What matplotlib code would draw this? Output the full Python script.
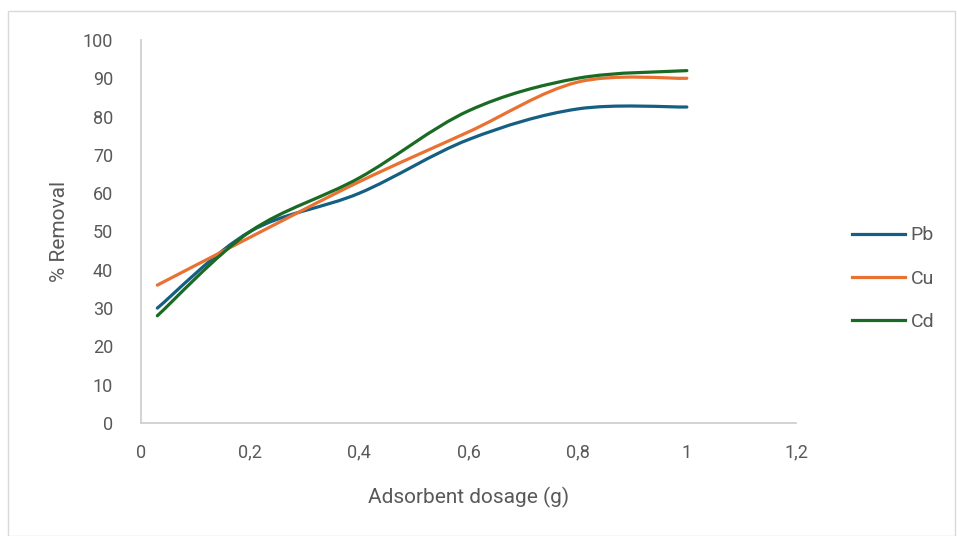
import matplotlib.pyplot as plt
from matplotlib.path import Path
from matplotlib.patches import PathPatch, Rectangle
from matplotlib.lines import Line2D

# data
dosage = [0.03, 0.2, 0.4, 0.6, 0.8, 1.0]
pb = [30, 50, 60, 74, 82, 82.5]
cu = [36, 48.5, 63, 76, 89, 90]
cd = [28, 50, 64, 81.5, 90, 92]

series = [("Pb", pb, "#156082"), ("Cu", cu, "#E97132"), ("Cd", cd, "#196B24")]
grey = "#595959"
font = "Roboto"


def smooth_path(x, y):
    # excel-like smoothed line: catmull-rom as cubic bezier segments
    n = len(x)
    verts = [(x[0], y[0])]
    codes = [Path.MOVETO]
    for i in range(n - 1):
        i0 = max(i - 1, 0)
        i3 = min(i + 2, n - 1)
        c1 = (x[i] + (x[i + 1] - x[i0]) / 6, y[i] + (y[i + 1] - y[i0]) / 6)
        c2 = (x[i + 1] - (x[i3] - x[i]) / 6, y[i + 1] - (y[i3] - y[i]) / 6)
        verts += [c1, c2, (x[i + 1], y[i + 1])]
        codes += [Path.CURVE4] * 3
    return Path(verts, codes)


fig = plt.figure(figsize=(9.57, 5.36), dpi=100)
ax = fig.add_axes([0.1473, 0.2108, 0.6845, 0.7146])

for name, vals, col in series:
    ax.add_patch(PathPatch(smooth_path(dosage, vals), facecolor="none",
                           edgecolor=col, lw=2.3, capstyle="round"))

ax.set_xlim(0, 1.2)
ax.set_ylim(0, 100)
ax.set_xticks([0, 0.2, 0.4, 0.6, 0.8, 1, 1.2])
ax.set_xticklabels(["0", "0,2", "0,4", "0,6", "0,8", "1", "1,2"])
ax.set_yticks(range(0, 101, 10))
ax.tick_params(length=0, colors=grey, labelsize=13)
ax.tick_params(axis="x", pad=15)
ax.tick_params(axis="y", pad=20)
for lab in ax.get_xticklabels() + ax.get_yticklabels():
    lab.set_fontfamily(font)

for s in ["top", "right"]:
    ax.spines[s].set_visible(False)
for s in ["left", "bottom"]:
    ax.spines[s].set_color("#d0d0d0")
    ax.spines[s].set_linewidth(1.3)

ax.set_xlabel("Adsorbent dosage (g)", fontsize=15, color=grey,
              family=font, labelpad=18)
ax.set_ylabel("% Removal", fontsize=15, color=grey, family=font,
              labelpad=10)

handles = [Line2D([], [], color=c, lw=2.3) for _, _, c in series]
fig.legend(handles, [s[0] for s in series], loc="center left",
           bbox_to_anchor=(0.8725, 0.48), frameon=False, handlelength=2.7,
           labelspacing=1.3, handletextpad=0.3,
           prop={"family": font, "size": 14}, labelcolor=grey)

fig.patches.append(Rectangle((0.008, 0.0), 0.99, 0.98, transform=fig.transFigure,
                             fill=False, edgecolor="#d9d9d9", lw=1))

fig.savefig("out.png", dpi=100)
